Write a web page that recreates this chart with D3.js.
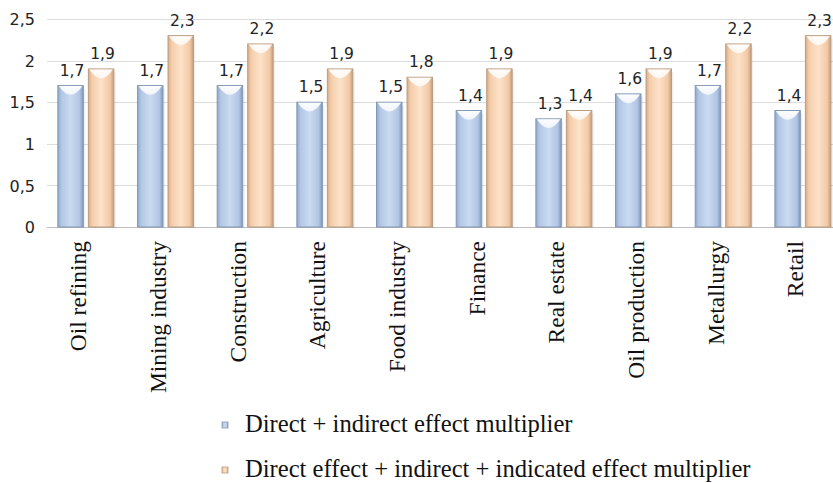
<!DOCTYPE html>
<html>
<head>
<meta charset="utf-8">
<script src="https://cdn.jsdelivr.net/npm/d3@7"></script>
<style>
  html, body { margin: 0; padding: 0; background: #ffffff; }
  svg { display: block; }
</style>
</head>
<body>
<svg id="chart" width="833" height="483"></svg>
<script>
const categories = ["Oil refining", "Mining industry", "Construction", "Agriculture", "Food industry",
  "Finance", "Real estate", "Oil production", "Metallurgy", "Retail"];
const seriesNames = ["Direct + indirect effect multiplier",
  "Direct effect + indirect + indicated effect multiplier"];
const directIndirect = [1.7, 1.7, 1.7, 1.5, 1.5, 1.4, 1.3, 1.6, 1.7, 1.4];
const directIndirectIndicated = [1.9, 2.3, 2.2, 1.9, 1.8, 1.9, 1.4, 1.9, 2.2, 2.3];
const yTicks = [0, 0.5, 1, 1.5, 2, 2.5];

const serif = "'Liberation Serif', 'Times New Roman', serif";
const sans = "'DejaVu Sans', sans-serif";

const svg = d3.select("#chart");
const fmt = v => String(v).replace(".", ",");

const x0 = d3.scaleBand().domain(categories).range([46, 842.7]).paddingInner(0).paddingOuter(0);
const x1 = d3.scaleBand().domain([0, 1]).range([-28, 28]).paddingInner(0.165);
const y = d3.scaleLinear().domain([0, 2.5]).range([227, 19]);

const defs = svg.append("defs");
function grad(id, stops) {
  const g = defs.append("linearGradient").attr("id", id).attr("x1", "0").attr("x2", "1").attr("y1", "0").attr("y2", "0");
  stops.forEach(s => g.append("stop").attr("offset", s[0]).attr("stop-color", s[1]));
}
grad("gBlue", [[0, "#8ea7cc"], [0.14, "#b3c7e4"], [0.5, "#cadaf1"], [0.86, "#b1c5e2"], [1, "#7d96bd"]]);
grad("gOrange", [[0, "#d9ab86"], [0.14, "#f4cdab"], [0.5, "#fde2c9"], [0.86, "#f2c9a6"], [1, "#c59c7a"]]);
const topGrad = defs.append("linearGradient").attr("id", "gTop").attr("x1", "0").attr("x2", "0").attr("y1", "0").attr("y2", "1");
topGrad.append("stop").attr("offset", 0).attr("stop-color", "#ffffff").attr("stop-opacity", 0.95);
topGrad.append("stop").attr("offset", 1).attr("stop-color", "#ffffff").attr("stop-opacity", 0.75);

// gridlines
svg.append("g").selectAll("line").data(yTicks).join("line")
  .attr("x1", 47).attr("x2", 833)
  .attr("y1", d => Math.round(y(d)) + 0.5).attr("y2", d => Math.round(y(d)) + 0.5)
  .attr("stroke", d => d === 0 ? "#bfbfbf" : "#dcdcdc").attr("stroke-width", 1);

// y axis labels
const yAxis = d3.axisLeft(y).tickValues(yTicks).tickFormat(fmt).tickSize(0).tickPadding(0);
const ya = svg.append("g").attr("transform", "translate(35,0)").call(yAxis);
ya.select(".domain").remove();
ya.selectAll("text").attr("font-family", sans).attr("font-size", 16)
  .attr("fill", "#222").attr("dy", "0.36em");

const series = [
  { name: seriesNames[0], values: directIndirect, fill: "url(#gBlue)", stroke: "#8598b6", key: 0 },
  { name: seriesNames[1], values: directIndirectIndicated, fill: "url(#gOrange)", stroke: "#b99c82", key: 1 }
];

const groups = svg.append("g").selectAll("g").data(categories).join("g")
  .attr("transform", c => `translate(${x0(c) + x0.bandwidth() / 2},0)`);

series.forEach(s => {
  groups.each(function (c, i) {
    const g = d3.select(this);
    const v = s.values[i];
    const bx = x1(s.key), bw = x1.bandwidth();
    const top = y(v), bottom = y(0);
    // soft shadow
    g.append("rect").attr("x", bx + 2).attr("y", top + 3).attr("width", bw).attr("height", bottom - top - 2)
      .attr("fill", "#000").attr("opacity", 0.06);
    g.append("rect").attr("x", bx).attr("y", top).attr("width", bw).attr("height", bottom - top)
      .attr("fill", s.fill).attr("stroke", s.stroke).attr("stroke-width", 1);
    const d = 9;
    g.append("path")
      .attr("d", `M${bx + 1},${top + 0.5} L${bx + bw - 1},${top + 0.5} Q${bx + bw / 2},${top + 2 * d} ${bx + 1},${top + 0.5} Z`)
      .attr("fill", "url(#gTop)");
    g.append("text").attr("x", bx + bw / 2 + 1.5).attr("y", top - 10)
      .attr("text-anchor", "middle").attr("font-family", sans).attr("font-size", 15.5)
      .attr("fill", "#222").text(fmt(v));
  });
});

// category labels
svg.append("g").selectAll("text").data(categories).join("text")
  .attr("transform", c => `translate(${x0(c) + x0.bandwidth() / 2 + 0.5},241) rotate(-90)`)
  .attr("text-anchor", "end")
  .attr("font-family", serif).attr("font-size", 23.5)
  .attr("fill", "#111").text(c => c);

// legend
const legend = svg.append("g");
const legY = [425, 470];
series.forEach((s, i) => {
  legend.append("rect").attr("x", 222).attr("y", legY[i] - 3).attr("width", 6).attr("height", 6)
    .attr("fill", s.fill).attr("stroke", s.stroke).attr("stroke-width", 0.8);
  legend.append("text").attr("x", 245).attr("y", legY[i] + 7)
    .attr("font-family", serif).attr("font-size", 24.6)
    .attr("fill", "#111").text(s.name);
});
</script>
</body>
</html>
